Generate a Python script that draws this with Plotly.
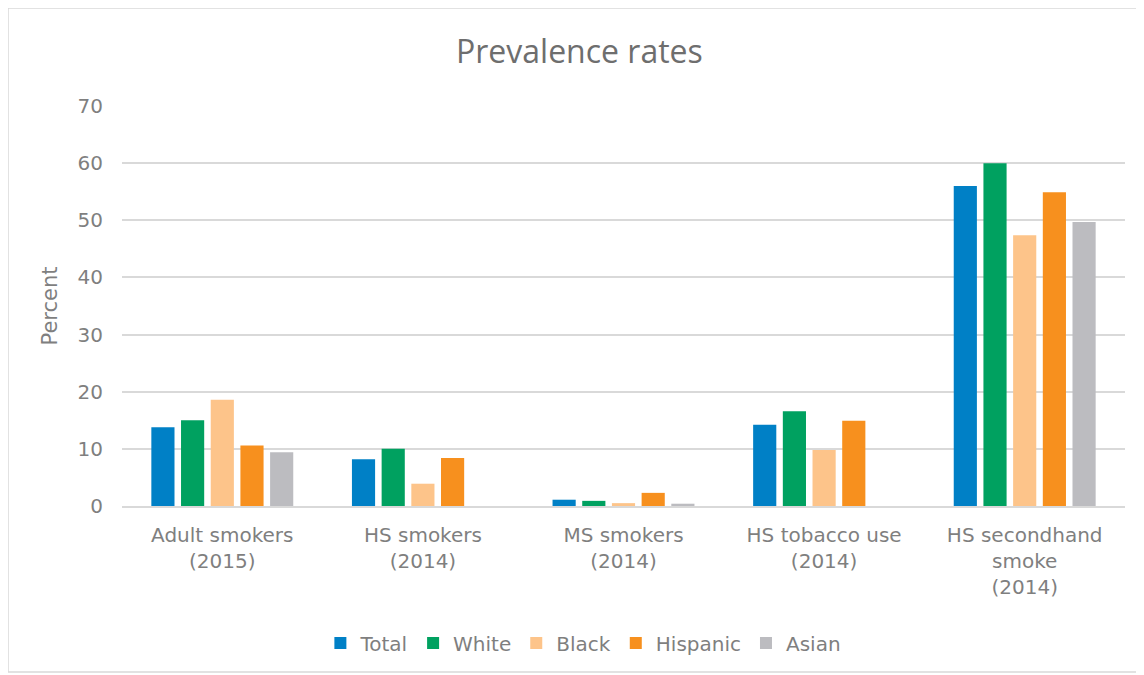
import plotly.graph_objects as go

categories = ["Adult smokers<br>(2015)", "HS smokers<br>(2014)", "MS smokers<br>(2014)",
              "HS tobacco use<br>(2014)", "HS secondhand<br>smoke<br>(2014)"]
total = [13.8, 8.2, 1.1, 14.2, 56.0]
white = [15.0, 10.0, 0.9, 16.6, 60.0]
black = [18.6, 3.9, 0.5, 9.8, 47.4]
hispanic = [10.6, 8.4, 2.3, 14.9, 54.9]
asian = [9.4, None, 0.4, None, 49.7]

series = [("Total", total, "#0080C6"), ("White", white, "#00A160"),
          ("Black", black, "#FDC48A"), ("Hispanic", hispanic, "#F7901E"),
          ("Asian", asian, "#BCBCC0")]

fig = go.Figure()
for name, vals, col in series:
    fig.add_trace(go.Bar(x=categories, y=vals, name=name, marker_color=col,
                         marker_line_width=0))

grey = "#7F7F7F"
# the page body has an 8px margin, so the figure is a bit smaller than the window
fig.update_layout(
    width=1136, height=667,
    margin=dict(l=114, r=19, t=98, b=169),
    paper_bgcolor="white", plot_bgcolor="white",
    font=dict(family="DejaVu Sans", color=grey, size=19),
    title=dict(text="Prevalence rates", x=0.503, xanchor="center", y=0.934, yanchor="middle",
               font=dict(size=32, color="#6E6E6E", family="Open Sans")),
    barmode="group", bargap=0.26, bargroupgap=0.22,
    legend=dict(orientation="h", x=0.46, xanchor="center", y=-0.3425, yanchor="middle",
                font=dict(size=20, color=grey), itemwidth=30, traceorder="normal"),
    yaxis=dict(range=[0, 70], dtick=10, gridcolor="#D9D9D9", gridwidth=1.5,
               zeroline=False, showline=False, ticks="", ticklabelstandoff=18,
               tickfont=dict(size=20, color=grey),
               title=dict(text="Percent", standoff=14, font=dict(size=21, color=grey))),
    xaxis=dict(showline=True, linecolor="#D9D9D9", linewidth=1.5, ticks="",
               ticklabelstandoff=10, tickfont=dict(size=20, color=grey)),
    shapes=[dict(type="rect", xref="paper", yref="paper",
                 x0=-114 / 1003, x1=(1133 - 114) / 1003,
                 y0=(498 - 664) / 400, y1=498 / 400,
                 line=dict(color="#D9D9D9", width=1.5), layer="below")],
)

fig.write_html("out.html")
